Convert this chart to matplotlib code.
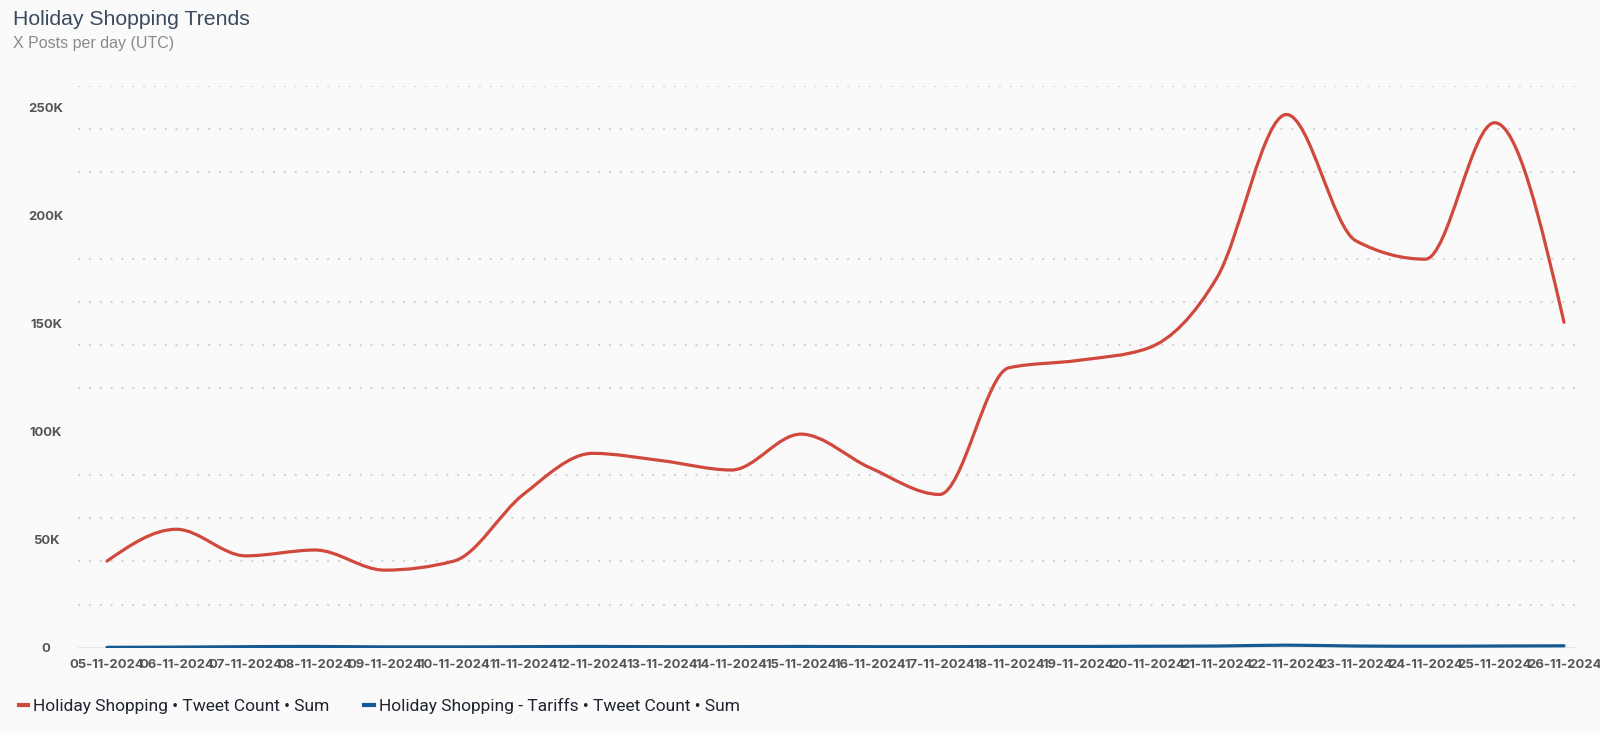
import matplotlib.pyplot as plt
import numpy as np
from matplotlib.path import Path
from matplotlib.patches import PathPatch
from matplotlib.lines import Line2D
from matplotlib.ticker import MultipleLocator, FuncFormatter

dates = ['05-11-2024', '06-11-2024', '07-11-2024', '08-11-2024', '09-11-2024',
         '10-11-2024', '11-11-2024', '12-11-2024', '13-11-2024', '14-11-2024',
         '15-11-2024', '16-11-2024', '17-11-2024', '18-11-2024', '19-11-2024',
         '20-11-2024', '21-11-2024', '22-11-2024', '23-11-2024', '24-11-2024',
         '25-11-2024', '26-11-2024']
holiday = [40200, 54900, 42600, 45300, 36000, 40200, 71000, 90000, 86600, 82300,
           98900, 83300, 71000, 129600, 133000, 138600, 171400, 246700, 188300,
           179800, 242900, 150600]
tariffs = [300, 400, 600, 700, 500, 500, 600, 700, 600, 600,
           700, 600, 600, 700, 700, 800, 900, 1300, 900, 800, 900, 1000]

red = '#d1483c'
blue = '#175a91'


def monotone_path(x, y):
    # cubic bezier through the points, monotone in x (like d3 curveMonotoneX)
    x = np.asarray(x, float)
    y = np.asarray(y, float)
    n = len(x)
    h = np.diff(x)
    s = np.diff(y) / h
    t = np.zeros(n)
    for i in range(1, n - 1):
        p = (s[i - 1] * h[i] + s[i] * h[i - 1]) / (h[i - 1] + h[i])
        t[i] = (np.sign(s[i - 1]) + np.sign(s[i])) * min(abs(s[i - 1]), abs(s[i]), 0.5 * abs(p))
    t[0] = (3 * s[0] - t[1]) / 2
    t[-1] = (3 * s[-1] - t[-2]) / 2
    verts = [(x[0], y[0])]
    codes = [Path.MOVETO]
    for i in range(n - 1):
        d = h[i] / 3
        verts += [(x[i] + d, y[i] + d * t[i]), (x[i + 1] - d, y[i + 1] - d * t[i + 1]), (x[i + 1], y[i + 1])]
        codes += [Path.CURVE4] * 3
    return Path(verts, codes)


fig = plt.figure(figsize=(16, 7.33), dpi=100, facecolor='#fafafa')
ax = fig.add_axes([0.04875, 0.116, 0.937, 0.767])
ax.set_facecolor('#fafafa')

xs = np.arange(len(dates))
ax.add_patch(PathPatch(monotone_path(xs, holiday), fill=False, edgecolor=red, lw=2.3, capstyle='round', zorder=3))
ax.add_patch(PathPatch(monotone_path(xs, tariffs), fill=False, edgecolor=blue, lw=2.3, capstyle='round', zorder=3))

ax.set_xlim(-0.418, 21.19)
ax.set_ylim(0, 260000)

ax.yaxis.set_major_locator(MultipleLocator(50000))
ax.yaxis.set_minor_locator(MultipleLocator(20000))
ax.yaxis.set_major_formatter(FuncFormatter(lambda v, p: '0' if v == 0 else f'{int(v/1000)}K'))
ax.grid(which='minor', axis='y', color='#d4d4d4', lw=1.5, linestyle=(0, (1, 4.2)))
ax.axhline(0, color='#e4e4e4', lw=1.2, zorder=1)

ax.set_xticks(xs)
ax.set_xticklabels(dates)
ax.tick_params(axis='both', which='both', length=0, labelsize=9.4, labelcolor='#555555')
ax.tick_params(axis='x', pad=8)
ax.tick_params(axis='y', which='major', pad=23)
for lab in ax.get_yticklabels():
    lab.set_horizontalalignment('center')
for lab in ax.get_xticklabels() + ax.get_yticklabels():
    lab.set_fontfamily('Inter')
    lab.set_fontweight('bold')

for sp in ax.spines.values():
    sp.set_visible(False)

fig.text(13 / 1600, 1 - 25 / 733, 'Holiday Shopping Trends', fontsize=15.3,
         family='Liberation Sans', color='#3b4a5e', va='baseline', ha='left')
fig.text(13 / 1600, 1 - 48 / 733, 'X Posts per day (UTC)', fontsize=11.5,
         family='Liberation Sans', color='#8a8a8a', va='baseline', ha='left')

handles = [Line2D([], [], color=red, lw=3), Line2D([], [], color=blue, lw=3)]
labels = ['Holiday Shopping • Tweet Count • Sum',
          'Holiday Shopping - Tariffs • Tweet Count • Sum']
fig.legend(handles, labels, loc='center left', bbox_to_anchor=(3 / 1600, 1 - 706 / 733),
           ncol=2, frameon=False, handlelength=0.55, handletextpad=0.3,
           columnspacing=2.0, prop={'family': 'Roboto', 'size': 12.5}, labelcolor='#1f2430')

fig.savefig('out.png', dpi=100, facecolor='#fafafa')
